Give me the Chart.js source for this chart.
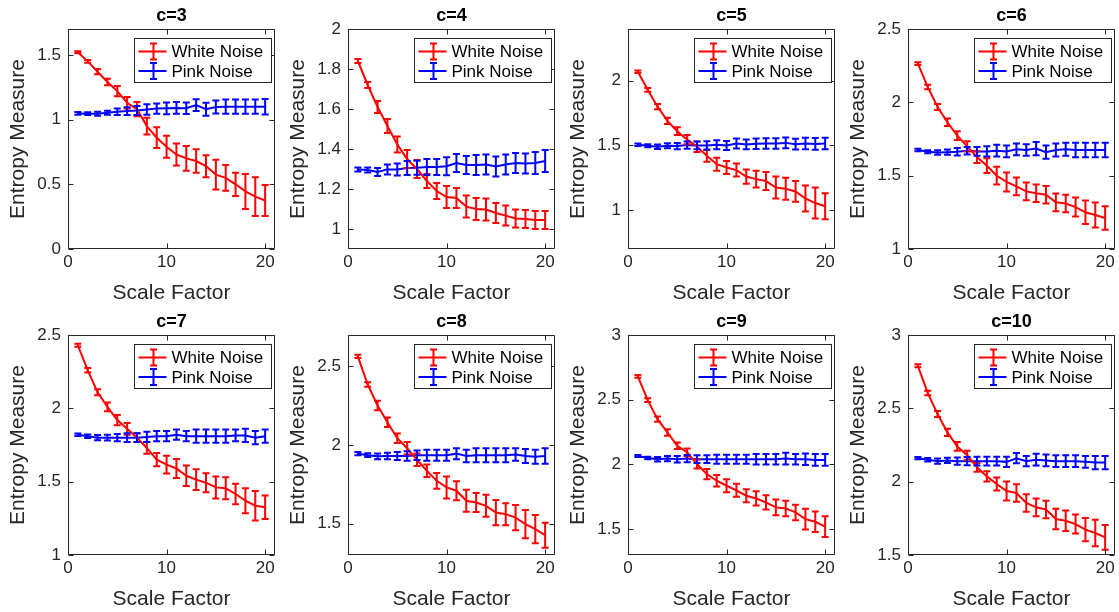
<!DOCTYPE html>
<html>
<head>
<meta charset="utf-8">
<script src="https://cdn.jsdelivr.net/npm/chart.js@4/dist/chart.umd.min.js"></script>
<style>
  body { margin: 0; background: #fff; overflow: hidden; }
  #grid { position: relative; width: 1119px; height: 612px; }
  .cell { position: absolute; width: 280px; height: 306px; }
</style>
</head>
<body>
<div id="grid"></div>
<script>
// x axis: scale factor 1..20
var scaleFactor = [1, 2, 3, 4, 5, 6, 7, 8, 9, 10, 11, 12, 13, 14, 15, 16, 17, 18, 19, 20]
var xTicks = [0, 10, 20]
var seriesNames = ["White Noise", "Pink Noise"]
var panelTitles = ["c=3", "c=4", "c=5", "c=6", "c=7", "c=8", "c=9", "c=10"]

// c=3
var white3 = [1.52, 1.45, 1.37, 1.29, 1.22, 1.13, 1.08, 0.95, 0.86, 0.79, 0.73, 0.70, 0.68, 0.64, 0.575, 0.55, 0.50, 0.445, 0.405, 0.375]
var whiteErr3 = [0.008, 0.01, 0.02, 0.025, 0.04, 0.045, 0.055, 0.065, 0.08, 0.085, 0.085, 0.095, 0.09, 0.085, 0.115, 0.1, 0.09, 0.135, 0.15, 0.12]
var pink3 = [1.048, 1.046, 1.045, 1.053, 1.06, 1.066, 1.07, 1.078, 1.085, 1.087, 1.09, 1.088, 1.112, 1.08, 1.097, 1.1, 1.1, 1.1, 1.1, 1.1]
var pinkErr3 = [0.01, 0.01, 0.015, 0.015, 0.025, 0.03, 0.035, 0.04, 0.04, 0.045, 0.045, 0.045, 0.045, 0.05, 0.05, 0.055, 0.055, 0.055, 0.055, 0.06]

// c=4
var white4 = [1.84, 1.72, 1.61, 1.515, 1.423, 1.35, 1.30, 1.24, 1.19, 1.16, 1.155, 1.112, 1.10, 1.097, 1.08, 1.067, 1.053, 1.05, 1.045, 1.045]
var whiteErr4 = [0.01, 0.015, 0.03, 0.035, 0.04, 0.045, 0.045, 0.035, 0.04, 0.055, 0.05, 0.055, 0.055, 0.055, 0.05, 0.05, 0.045, 0.045, 0.045, 0.045]
var pink4 = [1.298, 1.295, 1.285, 1.298, 1.298, 1.305, 1.306, 1.31, 1.31, 1.314, 1.33, 1.32, 1.32, 1.322, 1.312, 1.322, 1.33, 1.328, 1.33, 1.34]
var pinkErr4 = [0.01, 0.012, 0.02, 0.025, 0.03, 0.035, 0.035, 0.04, 0.04, 0.045, 0.045, 0.045, 0.05, 0.05, 0.05, 0.05, 0.05, 0.05, 0.055, 0.055]

// c=5
var white5 = [2.07, 1.93, 1.80, 1.69, 1.61, 1.545, 1.49, 1.42, 1.355, 1.33, 1.31, 1.26, 1.24, 1.225, 1.175, 1.165, 1.145, 1.09, 1.055, 1.03]
var whiteErr5 = [0.01, 0.015, 0.02, 0.025, 0.03, 0.035, 0.04, 0.045, 0.05, 0.05, 0.05, 0.055, 0.065, 0.07, 0.085, 0.085, 0.08, 0.1, 0.12, 0.1]
var pink5 = [1.505, 1.498, 1.49, 1.498, 1.495, 1.503, 1.50, 1.50, 1.505, 1.50, 1.515, 1.508, 1.513, 1.515, 1.515, 1.52, 1.51, 1.515, 1.512, 1.515]
var pinkErr5 = [0.01, 0.012, 0.018, 0.02, 0.025, 0.028, 0.03, 0.032, 0.035, 0.035, 0.038, 0.038, 0.04, 0.04, 0.04, 0.042, 0.042, 0.045, 0.045, 0.045]

// c=6
var white6 = [2.264, 2.105, 1.968, 1.864, 1.773, 1.70, 1.627, 1.568, 1.50, 1.457, 1.427, 1.393, 1.38, 1.37, 1.318, 1.31, 1.286, 1.25, 1.232, 1.211]
var whiteErr6 = [0.01, 0.015, 0.02, 0.025, 0.03, 0.035, 0.04, 0.05, 0.06, 0.065, 0.06, 0.06, 0.06, 0.06, 0.06, 0.06, 0.065, 0.08, 0.085, 0.08]
var pink6 = [1.675, 1.663, 1.658, 1.66, 1.663, 1.67, 1.665, 1.665, 1.67, 1.665, 1.68, 1.675, 1.685, 1.66, 1.675, 1.68, 1.675, 1.675, 1.675, 1.675]
var pinkErr6 = [0.008, 0.01, 0.015, 0.018, 0.025, 0.025, 0.03, 0.035, 0.04, 0.04, 0.04, 0.04, 0.045, 0.045, 0.045, 0.045, 0.05, 0.05, 0.05, 0.05]

// c=7
var white7 = [2.43, 2.26, 2.11, 2.01, 1.92, 1.86, 1.80, 1.73, 1.65, 1.616, 1.59, 1.54, 1.514, 1.493, 1.461, 1.455, 1.416, 1.37, 1.336, 1.325]
var whiteErr7 = [0.01, 0.015, 0.02, 0.03, 0.035, 0.04, 0.03, 0.04, 0.045, 0.06, 0.065, 0.07, 0.07, 0.065, 0.075, 0.075, 0.07, 0.085, 0.1, 0.08]
var pink7 = [1.82, 1.81, 1.80, 1.80, 1.80, 1.80, 1.80, 1.805, 1.81, 1.81, 1.82, 1.81, 1.81, 1.81, 1.81, 1.81, 1.815, 1.815, 1.80, 1.81]
var pinkErr7 = [0.008, 0.012, 0.018, 0.02, 0.025, 0.03, 0.03, 0.035, 0.035, 0.035, 0.035, 0.035, 0.045, 0.045, 0.045, 0.045, 0.04, 0.045, 0.045, 0.045]

// c=8
var white8 = [2.564, 2.385, 2.251, 2.145, 2.043, 1.979, 1.906, 1.836, 1.772, 1.73, 1.709, 1.645, 1.634, 1.613, 1.57, 1.56, 1.538, 1.496, 1.464, 1.426]
var whiteErr8 = [0.01, 0.015, 0.03, 0.03, 0.03, 0.04, 0.04, 0.04, 0.05, 0.07, 0.06, 0.07, 0.06, 0.07, 0.08, 0.07, 0.08, 0.09, 0.09, 0.08]
var pink8 = [1.945, 1.935, 1.928, 1.93, 1.93, 1.93, 1.935, 1.935, 1.935, 1.935, 1.945, 1.93, 1.935, 1.935, 1.935, 1.935, 1.94, 1.93, 1.925, 1.93]
var pinkErr8 = [0.01, 0.012, 0.018, 0.02, 0.025, 0.03, 0.03, 0.035, 0.035, 0.035, 0.035, 0.04, 0.045, 0.045, 0.045, 0.045, 0.04, 0.045, 0.045, 0.05]

// c=9
var white9 = [2.68, 2.497, 2.35, 2.247, 2.144, 2.093, 2.003, 1.925, 1.874, 1.835, 1.80, 1.758, 1.737, 1.706, 1.668, 1.66, 1.629, 1.577, 1.557, 1.52]
var whiteErr9 = [0.01, 0.015, 0.02, 0.025, 0.025, 0.03, 0.035, 0.04, 0.045, 0.05, 0.05, 0.05, 0.055, 0.055, 0.06, 0.06, 0.06, 0.08, 0.08, 0.08]
var pink9 = [2.065, 2.05, 2.04, 2.045, 2.04, 2.045, 2.04, 2.04, 2.04, 2.04, 2.04, 2.04, 2.04, 2.04, 2.04, 2.045, 2.04, 2.04, 2.035, 2.035]
var pinkErr9 = [0.008, 0.01, 0.018, 0.02, 0.025, 0.028, 0.03, 0.03, 0.035, 0.035, 0.035, 0.035, 0.04, 0.04, 0.04, 0.045, 0.04, 0.045, 0.045, 0.045]

// c=10
var white10 = [2.79, 2.605, 2.461, 2.336, 2.24, 2.18, 2.098, 2.036, 1.984, 1.936, 1.923, 1.855, 1.825, 1.81, 1.745, 1.734, 1.711, 1.673, 1.65, 1.62]
var whiteErr10 = [0.01, 0.015, 0.02, 0.025, 0.03, 0.03, 0.03, 0.035, 0.045, 0.065, 0.06, 0.06, 0.06, 0.06, 0.07, 0.07, 0.065, 0.08, 0.09, 0.085]
var pink10 = [2.16, 2.15, 2.14, 2.145, 2.14, 2.14, 2.14, 2.14, 2.14, 2.135, 2.16, 2.14, 2.15, 2.145, 2.14, 2.14, 2.14, 2.135, 2.13, 2.13]
var pinkErr10 = [0.008, 0.012, 0.018, 0.018, 0.025, 0.028, 0.03, 0.03, 0.03, 0.035, 0.035, 0.035, 0.04, 0.04, 0.04, 0.04, 0.04, 0.04, 0.045, 0.045]

// y axis limits and ticks per panel
var yMin = [0, 0.9, 0.7, 1, 1, 1.3, 1.3, 1.5]
var yMax = [1.7, 2, 2.4, 2.5, 2.5, 2.7, 3, 3]
var yTicks = [
  [0, 0.5, 1, 1.5],
  [1, 1.2, 1.4, 1.6, 1.8, 2],
  [1, 1.5, 2],
  [1, 1.5, 2, 2.5],
  [1, 1.5, 2, 2.5],
  [1.5, 2, 2.5],
  [1.5, 2, 2.5, 3],
  [1.5, 2, 2.5, 3]
]

var whiteAll = [white3, white4, white5, white6, white7, white8, white9, white10]
var whiteErrAll = [whiteErr3, whiteErr4, whiteErr5, whiteErr6, whiteErr7, whiteErr8, whiteErr9, whiteErr10]
var pinkAll = [pink3, pink4, pink5, pink6, pink7, pink8, pink9, pink10]
var pinkErrAll = [pinkErr3, pinkErr4, pinkErr5, pinkErr6, pinkErr7, pinkErr8, pinkErr9, pinkErr10]

var FONT = '"Liberation Sans", Arial, Helvetica, sans-serif'
var AXIS = "#262626"
var RED = "#ff0000"
var BLUE = "#0000ff"

// vertical error bars with caps
var errorBarPlugin = {
  id: "errorBars",
  afterDatasetsDraw: function(chart) {
    var ctx = chart.ctx
    var xs = chart.scales.x, ys = chart.scales.y
    ctx.save()
    ctx.lineWidth = 2
    chart.data.datasets.forEach(function(ds) {
      ctx.strokeStyle = ds.borderColor
      ctx.beginPath()
      ds.data.forEach(function(p, j) {
        var e = ds.errors[j]
        var px = xs.getPixelForValue(p.x)
        var top = ys.getPixelForValue(p.y + e)
        var bot = ys.getPixelForValue(p.y - e)
        ctx.moveTo(px, top)
        ctx.lineTo(px, bot)
        ctx.moveTo(px - 3.5, top)
        ctx.lineTo(px + 3.5, top)
        ctx.moveTo(px - 3.5, bot)
        ctx.lineTo(px + 3.5, bot)
      })
      ctx.stroke()
    })
    ctx.restore()
  }
}

// matlab style box, inward ticks and legend
var boxPlugin = {
  id: "matlabBox",
  afterDraw: function(chart) {
    var ctx = chart.ctx
    var a = chart.chartArea
    var xs = chart.scales.x, ys = chart.scales.y
    var L = Math.round(a.left) + 0.5, R = Math.round(a.right) - 0.5
    var T = Math.round(a.top) + 0.5, B = Math.round(a.bottom) - 0.5
    ctx.save()
    ctx.strokeStyle = AXIS
    ctx.lineWidth = 1
    ctx.beginPath()
    ctx.moveTo(L, T); ctx.lineTo(R, T); ctx.lineTo(R, B); ctx.lineTo(L, B); ctx.closePath()
    xs.ticks.forEach(function(t) {
      var px = Math.round(xs.getPixelForValue(t.value)) + 0.5
      ctx.moveTo(px, B); ctx.lineTo(px, B - 5)
      ctx.moveTo(px, T); ctx.lineTo(px, T + 5)
    })
    ys.ticks.forEach(function(t) {
      var py = Math.round(ys.getPixelForValue(t.value)) + 0.5
      ctx.moveTo(L, py); ctx.lineTo(L + 5, py)
      ctx.moveTo(R, py); ctx.lineTo(R - 5, py)
    })
    ctx.stroke()

    // legend
    var bx = Math.round(a.right) - 140.5, by = Math.round(a.top) + 9.5
    var bw = 137, bh = 44
    ctx.fillStyle = "#fff"
    ctx.fillRect(bx, by, bw, bh)
    ctx.strokeStyle = AXIS
    ctx.strokeRect(bx, by, bw, bh)
    ctx.font = "17px " + FONT
    ctx.textBaseline = "middle"
    ctx.textAlign = "left"
    chart.data.datasets.forEach(function(ds, i) {
      var cy = by + 13 + i * 19.5
      var cx = bx + 19
      ctx.strokeStyle = ds.borderColor
      ctx.lineWidth = 2
      ctx.beginPath()
      ctx.moveTo(bx + 4, cy); ctx.lineTo(bx + 32, cy)
      ctx.moveTo(cx, cy - 8); ctx.lineTo(cx, cy + 8)
      ctx.moveTo(cx - 3.5, cy - 8); ctx.lineTo(cx + 3.5, cy - 8)
      ctx.moveTo(cx - 3.5, cy + 8); ctx.lineTo(cx + 3.5, cy + 8)
      ctx.stroke()
      ctx.fillStyle = "#000"
      ctx.fillText(ds.label, bx + 37, cy + 1)
    })
    ctx.restore()
  }
}

function points(ys) {
  return scaleFactor.map(function(x, i) { return {x: x, y: ys[i]} })
}

function makePanel(k) {
  var cell = document.createElement("div")
  cell.className = "cell"
  cell.style.left = (k % 4) * 280 + "px"
  cell.style.top = Math.floor(k / 4) * 306 + "px"
  var canvas = document.createElement("canvas")
  canvas.width = 280
  canvas.height = 306
  cell.appendChild(canvas)
  document.getElementById("grid").appendChild(cell)

  new Chart(canvas, {
    type: "line",
    data: {
      datasets: [
        {label: seriesNames[0], data: points(whiteAll[k]), errors: whiteErrAll[k],
         borderColor: RED, borderWidth: 2, pointRadius: 0, tension: 0, fill: false},
        {label: seriesNames[1], data: points(pinkAll[k]), errors: pinkErrAll[k],
         borderColor: BLUE, borderWidth: 2, pointRadius: 0, tension: 0, fill: false}
      ]
    },
    options: {
      responsive: false,
      animation: false,
      devicePixelRatio: 1,
      layout: {padding: {left: 0, right: 5, top: 0, bottom: 0}},
      plugins: {
        legend: {display: false},
        tooltip: {enabled: false},
        title: {
          display: true, text: panelTitles[k], color: "#000", fullSize: false,
          font: {family: FONT, size: 18, weight: "bold"},
          padding: {top: 5, bottom: 2.4}
        }
      },
      scales: {
        x: {
          type: "linear", min: 0, max: 21,
          afterBuildTicks: function(s) { s.ticks = xTicks.map(function(v) { return {value: v} }) },
          afterFit: function(s) { s.height = 57 },
          grid: {display: false, drawTicks: false},
          border: {display: false},
          ticks: {color: AXIS, font: {family: FONT, size: 17}, padding: 3, maxRotation: 0, autoSkip: false,
                  callback: function(v) { return String(v) }},
          title: {display: true, text: "Scale Factor", color: AXIS, font: {family: FONT, size: 21},
                  padding: {top: 0, bottom: 0}}
        },
        y: {
          type: "linear", min: yMin[k], max: yMax[k],
          afterBuildTicks: function(s) { s.ticks = yTicks[k].map(function(v) { return {value: v} }) },
          afterFit: function(s) { s.width = 68 },
          grid: {display: false, drawTicks: false},
          border: {display: false},
          ticks: {color: AXIS, font: {family: FONT, size: 17}, padding: 7, autoSkip: false,
                  callback: function(v) { return String(v) }},
          title: {display: true, text: "Entropy Measure", color: AXIS, font: {family: FONT, size: 21},
                  padding: {top: 6, bottom: 0}}
        }
      }
    },
    plugins: [errorBarPlugin, boxPlugin]
  })
}

for (var k = 0; k < 8; k++) {
  makePanel(k)
}
</script>
</body>
</html>
